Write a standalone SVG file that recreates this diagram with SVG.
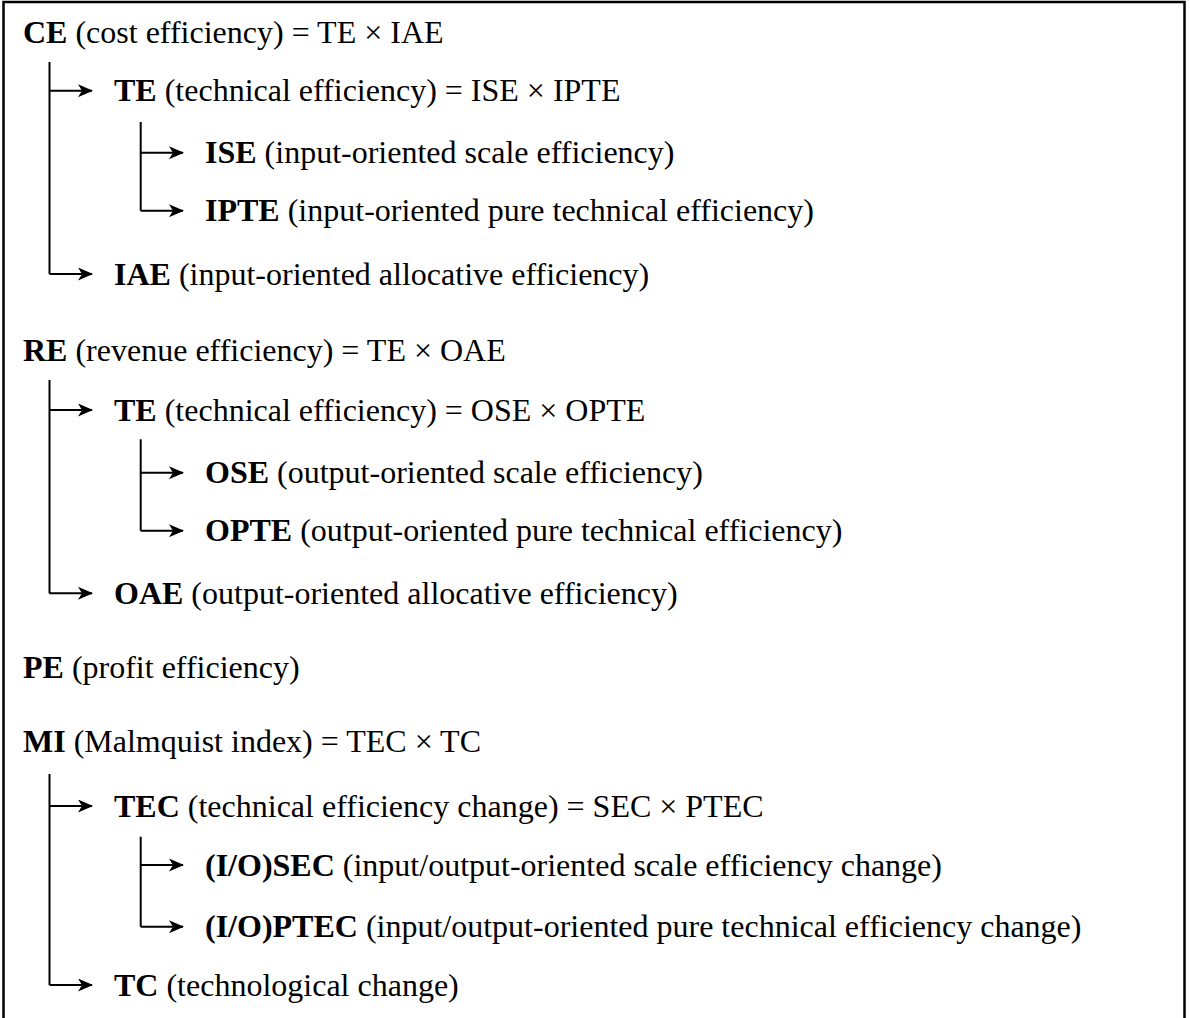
<svg xmlns="http://www.w3.org/2000/svg" width="1190" height="1018" viewBox="0 0 1190 1018">
<style>
  text { font-family: "Liberation Serif", "Times New Roman", serif; font-size: 32px; fill: #000; }
  .b { font-weight: bold; }
  .ln { stroke: #000; stroke-width: 2; fill: none; }
  .ar { stroke: #000; stroke-width: 2; fill: none; marker-end: url(#ah); }
</style>
<defs>
  <marker id="ah" markerUnits="userSpaceOnUse" viewBox="0 0 15 13" refX="14" refY="6.5" markerWidth="15" markerHeight="13" orient="auto">
    <path d="M0,0 L15,6.5 L0,13 L4,6.5 Z" fill="#000"/>
  </marker>
</defs>
<rect x="3.5" y="2" width="1181" height="1040" fill="#fff" stroke="#000" stroke-width="2.5"/>

<g id="connectors">
  <!-- group CE -->
  <path class="ln" d="M49.5,62 V274"/>
  <path class="ar" d="M49.5,90.7 H92"/>
  <path class="ar" d="M49.5,274 H92"/>
  <path class="ln" d="M140.7,122 V210.7"/>
  <path class="ar" d="M140.7,152.7 H183"/>
  <path class="ar" d="M140.7,210.7 H183"/>
  <!-- group RE -->
  <path class="ln" d="M49.5,380 V593.3"/>
  <path class="ar" d="M49.5,410 H92"/>
  <path class="ar" d="M49.5,593.3 H92"/>
  <path class="ln" d="M140.7,439.3 V530.7"/>
  <path class="ar" d="M140.7,472.7 H183"/>
  <path class="ar" d="M140.7,530.7 H183"/>
  <!-- group MI -->
  <path class="ln" d="M49.5,774 V985"/>
  <path class="ar" d="M49.5,806 H92"/>
  <path class="ar" d="M49.5,985 H92"/>
  <path class="ln" d="M140.7,836.7 V926.7"/>
  <path class="ar" d="M140.7,865 H183"/>
  <path class="ar" d="M140.7,926.7 H183"/>
</g>

<g id="node-CE"><text x="23" y="42.5"><tspan class="b">CE</tspan> (cost efficiency) = TE × IAE</text></g>
<g id="node-TE1"><text x="114" y="101.2"><tspan class="b">TE</tspan> (technical efficiency) = ISE × IPTE</text></g>
<g id="node-ISE"><text x="205" y="163.2"><tspan class="b">ISE</tspan> (input-oriented scale efficiency)</text></g>
<g id="node-IPTE"><text x="205" y="221.2"><tspan class="b">IPTE</tspan> (input-oriented pure technical efficiency)</text></g>
<g id="node-IAE"><text x="114" y="284.5"><tspan class="b">IAE</tspan> (input-oriented allocative efficiency)</text></g>

<g id="node-RE"><text x="23" y="360.5"><tspan class="b">RE</tspan> (revenue efficiency) = TE × OAE</text></g>
<g id="node-TE2"><text x="114" y="420.5"><tspan class="b">TE</tspan> (technical efficiency) = OSE × OPTE</text></g>
<g id="node-OSE"><text x="205" y="483.2"><tspan class="b">OSE</tspan> (output-oriented scale efficiency)</text></g>
<g id="node-OPTE"><text x="205" y="541.2"><tspan class="b">OPTE</tspan> (output-oriented pure technical efficiency)</text></g>
<g id="node-OAE"><text x="114" y="603.8"><tspan class="b">OAE</tspan> (output-oriented allocative efficiency)</text></g>

<g id="node-PE"><text x="23" y="678"><tspan class="b">PE</tspan> (profit efficiency)</text></g>

<g id="node-MI"><text x="23" y="752"><tspan class="b">MI</tspan> (Malmquist index) = TEC × TC</text></g>
<g id="node-TEC"><text x="114" y="816.5"><tspan class="b">TEC</tspan> (technical efficiency change) = SEC × PTEC</text></g>
<g id="node-SEC"><text x="205" y="875.5"><tspan class="b">(I/O)SEC</tspan> (input/output-oriented scale efficiency change)</text></g>
<g id="node-PTEC"><text x="205" y="937"><tspan class="b">(I/O)PTEC</tspan> (input/output-oriented pure technical efficiency change)</text></g>
<g id="node-TC"><text x="114" y="995.5"><tspan class="b">TC</tspan> (technological change)</text></g>
</svg>
